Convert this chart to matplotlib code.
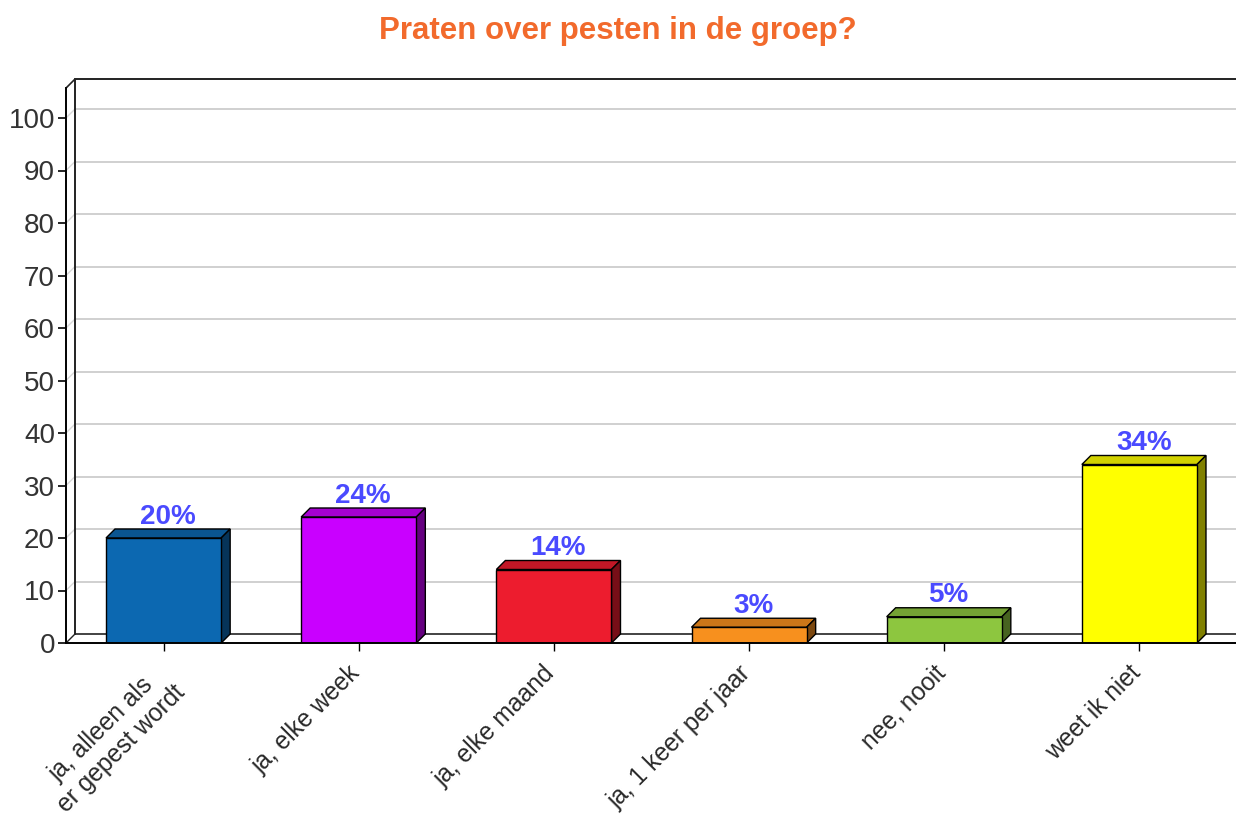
import matplotlib
matplotlib.use("Agg")
import matplotlib.pyplot as plt
import matplotlib.transforms as mtransforms
from matplotlib.patches import Polygon, Rectangle
from matplotlib.colors import to_rgb
import numpy as np

plt.rcParams['font.family'] = ['Liberation Sans', 'DejaVu Sans']

# data
categories = ["ja, alleen als\ner gepest wordt", "ja, elke week", "ja, elke maand",
              "ja, 1 keer per jaar", "nee, nooit", "weet ik niet"]
values = [20, 24, 14, 3, 5, 34]
labels = ["20%", "24%", "14%", "3%", "5%", "34%"]
colors = ["#0c68b1", "#c900ff", "#ed1c2e", "#f7901e", "#8dc63f", "#ffff00"]
yticks = [0, 10, 20, 30, 40, 50, 60, 70, 80, 90, 100]

fig = plt.figure(figsize=(12.36, 8.14), dpi=100)
ax = fig.add_axes([66 / 1236, 171 / 814, 1171 / 1236, 107.5 * 5.25 / 814])

ymax_front = 105.7
dx = 9 / 195.2   # depth offset in x data units
dy = 9 / 5.25    # depth offset in y data units
w = 0.59
x0, x1 = -0.5, 5.5

ax.set_xlim(x0, x1)
ax.set_ylim(0, 107.5)

# back wall grid and side wall diagonals
for v in yticks[1:]:
    ax.plot([x0 + dx, x1 + 0.1], [v + dy, v + dy], color="#c8c8c8", lw=1.2, zorder=1, clip_on=False)
    ax.plot([x0, x0 + dx], [v, v + dy], color="#d8d8d8", lw=1, zorder=1)
# floor + back frame
ax.plot([x0 + dx, x1 + 0.1], [dy, dy], color="#222222", lw=1.2, zorder=1, clip_on=False)
ax.plot([x0, x0 + dx], [0, dy], color="#222222", lw=1, zorder=1)
ax.plot([x0 + dx, x0 + dx], [dy, ymax_front + dy], color="#222222", lw=1.4, zorder=1)
ax.plot([x0 + dx, x1 + 0.1], [ymax_front + dy, ymax_front + dy], color="#222222", lw=1.4, zorder=1, clip_on=False)
ax.plot([x0, x0 + dx], [ymax_front, ymax_front + dy], color="#222222", lw=1.2, zorder=1)


def shade(c, f):
    r, g, b = to_rgb(c)
    return (r * f, g * f, b * f)


for i, (v, c, lab) in enumerate(zip(values, colors, labels)):
    l, r = i - w / 2, i + w / 2
    ax.add_patch(Polygon([(l, v), (r, v), (r + dx, v + dy), (l + dx, v + dy)],
                         closed=True, facecolor=shade(c, 0.82), edgecolor="black", lw=1, zorder=3))
    ax.add_patch(Polygon([(r, 0), (r + dx, dy), (r + dx, v + dy), (r, v)],
                         closed=True, facecolor=shade(c, 0.5), edgecolor="black", lw=1, zorder=3))
    ax.add_patch(Rectangle((l, 0), w, v, facecolor=c, edgecolor="black", lw=1, zorder=4))
    ax.annotate(lab, (i + dx / 2, v + dy), xytext=(0, -0.5), textcoords="offset points",
                ha="center", va="bottom", fontsize=20, fontweight="bold", color="#4a4aff")

# front axes
for s in ["top", "right"]:
    ax.spines[s].set_visible(False)
ax.spines["left"].set_bounds(0, ymax_front)
ax.spines["left"].set_linewidth(1.4)
ax.spines["bottom"].set_linewidth(1.4)
ax.spines["left"].set_zorder(5)
ax.spines["bottom"].set_zorder(5)

ax.set_yticks(yticks)
ax.set_yticklabels([str(t) for t in yticks])
ax.tick_params(axis="y", direction="out", length=6, width=1.2, labelsize=20, labelcolor="#333333", pad=2)
ax.set_xticks(np.arange(len(categories)))
ax.set_xticklabels(categories, rotation=45, ha="right", rotation_mode="anchor",
                   fontsize=17.7, color="#2a2a2a", multialignment="center")
ax.tick_params(axis="x", direction="out", length=6, width=1, pad=7)
shift = mtransforms.ScaledTranslation(-11 / 100, 0, fig.dpi_scale_trans)
for t in ax.get_xticklabels():
    t.set_transform(t.get_transform() + shift)

fig.text(0.5, 1 - 31 / 814, "Praten over pesten in de groep?", ha="center", va="center",
         fontsize=22.5, fontweight="bold", color="#f26a2c")

plt.savefig("out.png", dpi=100)
